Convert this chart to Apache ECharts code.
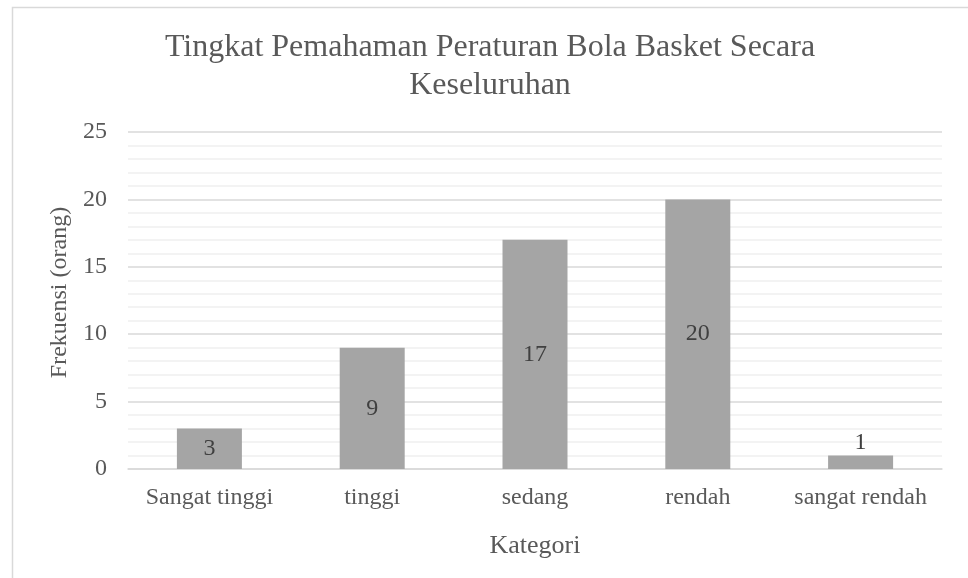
<!DOCTYPE html>
<html>
<head>
<meta charset="utf-8">
<script src="https://cdn.jsdelivr.net/npm/echarts@6/dist/echarts.min.js"></script>
<style>
* { margin: 0; padding: 0; }
#chart-container { width: 968px; height: 578px; background: #fff; }
</style>
</head>
<body>
<div id="chart-container"></div>
<script>
const categories = ['Sangat tinggi', 'tinggi', 'sedang', 'rendah', 'sangat rendah']
const frekuensi = [3, 9, 17, 20, 1]
const titleText = 'Tingkat Pemahaman Peraturan Bola Basket Secara\nKeseluruhan'

const font = '"Liberation Serif", "Times New Roman", serif'
const textColor = '#595959'

const chart = echarts.init(document.getElementById('chart-container'))

const option = {
  animation: false,
  title: {
    text: titleText,
    left: 490,
    top: 29,
    padding: 0,
    textAlign: 'center',
    textStyle: {
      fontFamily: font,
      fontWeight: 'normal',
      fontSize: 32,
      lineHeight: 38,
      color: textColor
    }
  },
  graphic: [
    {
      type: 'rect',
      left: 10,
      top: 5,
      shape: { width: 1000, height: 1000 },
      style: { fill: 'none', stroke: '#d9d9d9', lineWidth: 1.5 },
      silent: true
    }
  ],
  grid: {
    left: 128,
    right: 26,
    top: 132,
    bottom: 109
  },
  xAxis: {
    type: 'category',
    data: categories,
    name: 'Kategori',
    nameLocation: 'middle',
    nameGap: 64,
    nameTextStyle: { fontFamily: font, fontSize: 26, color: textColor },
    axisLine: { lineStyle: { color: '#d9d9d9', width: 1.5 } },
    axisTick: { show: false },
    axisLabel: { interval: 0, fontFamily: font, fontSize: 24, color: textColor, margin: 17 }
  },
  yAxis: {
    type: 'value',
    min: 0,
    max: 25,
    interval: 5,
    name: 'Frekuensi (orang)',
    nameLocation: 'middle',
    nameGap: 49,
    nameTextStyle: { fontFamily: font, fontSize: 24, color: textColor, padding: [0, 0, 0, 16] },
    axisLine: { show: false },
    axisTick: { show: false },
    axisLabel: { fontFamily: font, fontSize: 24, color: textColor, margin: 21 },
    splitLine: { lineStyle: { color: '#d9d9d9', width: 1.5 } },
    minorTick: { show: false, splitNumber: 5 },
    minorSplitLine: { show: true, lineStyle: { color: '#f0f0f0', width: 1.5 } }
  },
  series: [
    {
      type: 'bar',
      data: frekuensi.map(v => ({
        value: v,
        label: { position: v < 2 ? 'top' : 'inside' }
      })),
      barWidth: 65,
      itemStyle: { color: '#a5a5a5' },
      label: {
        show: true,
        fontFamily: font,
        fontSize: 24,
        color: '#404040',
        distance: 1
      }
    }
  ]
}

chart.setOption(option)
</script>
</body>
</html>
